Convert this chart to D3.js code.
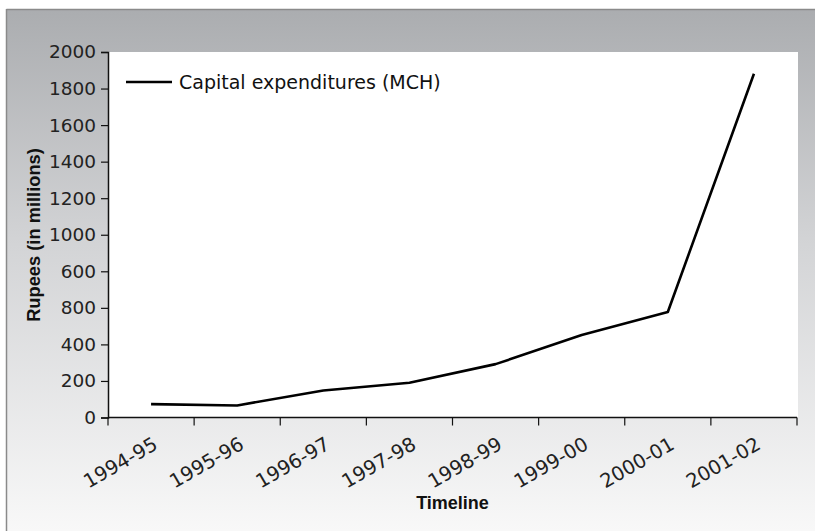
<!DOCTYPE html>
<html>
<head>
<meta charset="utf-8">
<script src="https://cdn.jsdelivr.net/npm/d3@7/dist/d3.min.js"></script>
<style>
html,body{margin:0;padding:0;background:#fff;}
svg{display:block;}
</style>
</head>
<body>
<svg id="chart" width="815" height="531"></svg>
<script>
const categories = ["1994-95","1995-96","1996-97","1997-98","1998-99","1999-00","2000-01","2001-02"];
const capitalExpenditures = [73, 66, 148, 190, 292, 451, 577, 1881];
const yTickValues = [0,200,400,600,800,1000,1200,1400,1600,1800,2000];
const yTickLabels = ["0","200","400","800","600","1000","1200","1400","1600","1800","2000"];
const seriesName = "Capital expenditures (MCH)";
const xTitle = "Timeline";
const yTitle = "Rupees (in millions)";

const W = 815, H = 531;
const m = {left:108, right:797, top:52, bottom:417.5};
const svg = d3.select("#chart");

const defs = svg.append("defs");
const grad = defs.append("linearGradient").attr("id","bg").attr("x1",0).attr("y1",0).attr("x2",0).attr("y2",1);
grad.append("stop").attr("offset","0%").attr("stop-color","#abadb0");
grad.append("stop").attr("offset","45%").attr("stop-color","#d3d4d6");
grad.append("stop").attr("offset","100%").attr("stop-color","#f8f8f8");

svg.append("rect").attr("x",0).attr("y",0).attr("width",W).attr("height",H).attr("fill","#fff");
svg.append("rect").attr("x",7).attr("y",10).attr("width",W-7).attr("height",H-10).attr("fill","url(#bg)");
svg.append("line").attr("x1",6.5).attr("x2",W).attr("y1",9.5).attr("y2",9.5).attr("stroke","#8a8a8a").attr("stroke-width",1.5);
svg.append("line").attr("x1",6.5).attr("x2",6.5).attr("y1",9).attr("y2",H).attr("stroke","#8a8a8a").attr("stroke-width",1.5);

// plot area
svg.append("rect").attr("x",m.left).attr("y",m.top).attr("width",798-m.left).attr("height",m.bottom-m.top).attr("fill","#fff");

const x = d3.scaleBand().domain(categories).range([m.left, m.right]).padding(0);
const y = d3.scaleLinear().domain([0,2000]).range([m.bottom, m.top]);

// y axis
const yAxis = d3.axisLeft(y).tickValues(yTickValues).tickSize(7).tickPadding(5)
  .tickFormat((d,i)=>yTickLabels[i]);
const gy = svg.append("g").attr("transform",`translate(${m.left},0)`).call(yAxis);
gy.select(".domain").attr("stroke","#111").attr("stroke-width",1.5);
gy.selectAll(".tick line").attr("stroke","#111").attr("stroke-width",1.2);
gy.selectAll(".tick text").attr("font-family","DejaVu Sans").attr("font-size","18.5px").attr("fill","#222");

// x axis: ticks at band boundaries
const gx = svg.append("g").attr("transform",`translate(0,${m.bottom})`);
gx.append("line").attr("x1",m.left).attr("x2",m.right).attr("y1",0).attr("y2",0).attr("stroke","#111").attr("stroke-width",1.5);
const boundaries = categories.map(c=>x(c)).concat([x(categories[categories.length-1])+x.bandwidth()]);
gx.selectAll("line.tk").data(boundaries).enter().append("line").attr("class","tk")
  .attr("x1",d=>d).attr("x2",d=>d).attr("y1",0).attr("y2",8).attr("stroke","#111").attr("stroke-width",1.2);
gx.selectAll("text.lbl").data(categories).enter().append("text").attr("class","lbl")
  .attr("transform",d=>`translate(${x(d)+x.bandwidth()/2+8},${30.5}) rotate(-30)`)
  .attr("text-anchor","end")
  .attr("font-family","DejaVu Sans").attr("font-size","19.5px").attr("fill","#222")
  .text(d=>d);

// titles
svg.append("text").attr("x",452.5).attr("y",509).attr("text-anchor","middle")
  .attr("font-family","Liberation Sans Narrow, Liberation Sans").attr("font-weight","bold")
  .attr("font-size","18px").attr("fill","#111").text(xTitle);
svg.append("text").attr("transform","translate(40,235) rotate(-90)").attr("text-anchor","middle")
  .attr("font-family","Liberation Sans Narrow, Liberation Sans").attr("font-weight","bold")
  .attr("font-size","18.3px").attr("fill","#111").text(yTitle);

// line
const line = d3.line().x((d,i)=>x(categories[i])+x.bandwidth()/2).y(d=>y(d));
svg.append("path").datum(capitalExpenditures).attr("d",line).attr("fill","none")
  .attr("stroke","#000").attr("stroke-width",2.6).attr("stroke-linejoin","round");

// legend
svg.append("line").attr("x1",126).attr("x2",172).attr("y1",82).attr("y2",82).attr("stroke","#000").attr("stroke-width",2.6);
svg.append("text").attr("x",179).attr("y",88.5).attr("font-family","DejaVu Sans").attr("font-size","19px").attr("fill","#111").text(seriesName);
</script>
</body>
</html>
